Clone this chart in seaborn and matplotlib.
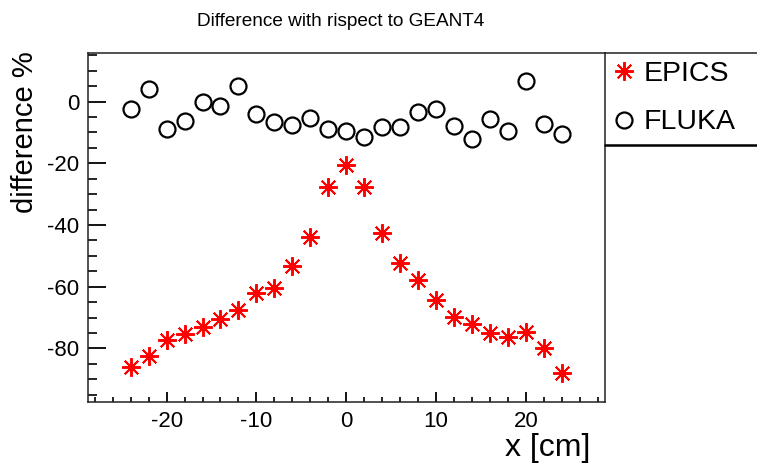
import numpy as np
import pandas as pd
import matplotlib
matplotlib.use("Agg")
import matplotlib.pyplot as plt
from matplotlib.lines import Line2D
from matplotlib.ticker import MultipleLocator, FixedLocator
import seaborn as sns

# Positions along x [cm]
x_cm = [-24, -22, -20, -18, -16, -14, -12, -10, -8, -6, -4, -2, 0,
        2, 4, 6, 8, 10, 12, 14, 16, 18, 20, 22, 24]

# Percent difference of each code with respect to GEANT4
epics_diff = [-85.9, -82.3, -77.2, -75.3, -72.9, -70.5, -67.5, -61.9, -60.5,
              -53.3, -43.8, -27.6, -20.7, -27.6, -42.7, -52.2, -57.8, -64.3,
              -69.9, -72.1, -74.9, -76.4, -74.6, -79.9, -88.0]
fluka_diff = [-2.5, 4.0, -8.9, -6.2, -0.2, -1.3, 5.1, -4.0, -6.7, -7.6, -5.4,
              -9.0, -9.7, -11.6, -8.1, -8.1, -3.4, -2.4, -7.9, -12.1, -5.6,
              -9.5, 6.6, -7.3, -10.5]

series_names = ["EPICS", "FLUKA"]
x_ticks = [-20, -10, 0, 10, 20]
y_ticks = [-80, -60, -40, -20, 0]

df = pd.DataFrame({"x": x_cm, "EPICS": epics_diff, "FLUKA": fluka_diff})

sns.set_theme(style="white")
plt.rcParams["font.family"] = ["Liberation Sans", "DejaVu Sans"]
plt.rcParams["text.color"] = "black"

W, H = 757, 466
fig = plt.figure(figsize=(W / 100, H / 100), dpi=100)
fig.patch.set_facecolor("white")

left, right, top, bottom = 87.5, 605, 52.5, 401.5
ax = fig.add_axes([left / W, 1 - bottom / H, (right - left) / W, (bottom - top) / H])
ax.set_facecolor("white")

sns.lineplot(data=df, x="x", y="EPICS", ax=ax, linestyle="none",
             marker=(8, 2, 0), markersize=13.5, markeredgewidth=1.4,
             markeredgecolor="#ff0000", color="#ff0000", label=series_names[0])
sns.lineplot(data=df, x="x", y="FLUKA", ax=ax, linestyle="none",
             marker="o", markersize=11.5, markeredgewidth=1.6,
             markerfacecolor="none", markeredgecolor="black", color="black",
             label=series_names[1])

ax.set_xlim(-28.8, 28.8)
ax.set_ylim(-97.2, 15.9)

ax.xaxis.set_major_locator(FixedLocator(x_ticks))
ax.xaxis.set_minor_locator(MultipleLocator(2))
ax.yaxis.set_major_locator(FixedLocator(y_ticks))
ax.yaxis.set_minor_locator(MultipleLocator(5))
ax.set_xticklabels([str(v) for v in x_ticks])
ax.set_yticklabels([str(v) for v in y_ticks])

ax.tick_params(axis="both", which="both", direction="in", colors="black",
               labelsize=16, top=False, right=False, bottom=True, left=True)
ax.tick_params(axis="x", which="major", length=7, width=1.3, pad=7)
ax.tick_params(axis="x", which="minor", length=3.5, width=1.2)
ax.tick_params(axis="y", which="major", length=13, width=1.3, pad=6)
ax.tick_params(axis="y", which="minor", length=6.5, width=1.2)

for s in ax.spines.values():
    s.set_color("#222222")
    s.set_linewidth(1.1)
    s.set_visible(True)

ax.set_xlabel("")
ax.set_ylabel("")
ax.get_legend().remove()

# Titles
fig.text(341 / W, 1 - 21 / H, "Difference with rispect to GEANT4",
         ha="center", va="center", fontsize=13.7, color="black")
fig.text(590 / W, 1 - 433 / H, "x [cm]", ha="right", va="top",
         fontsize=23, color="black")
fig.text(25 / W, 1 - 51 / H, "difference %", rotation=90, ha="center",
         va="top", fontsize=21, color="black")

# Legend panel to the right of the frame
handles, labels = ax.get_legend_handles_labels()
fig.legend(handles, labels, loc="upper left",
           bbox_to_anchor=(611 / W, 1 - 61 / H), frameon=False,
           fontsize=20.5, handlelength=0.9, handletextpad=0.25,
           labelspacing=0.79, borderpad=0, borderaxespad=0,
           labelcolor="black")
fig.add_artist(Line2D([right / W, 1.0], [1 - top / H, 1 - top / H],
                      color="#222222", linewidth=1.1))
fig.add_artist(Line2D([right / W, 1.0], [1 - 145 / H, 1 - 145 / H],
                      color="black", linewidth=1.8))

fig.savefig("out.png", dpi=100, facecolor="white")
